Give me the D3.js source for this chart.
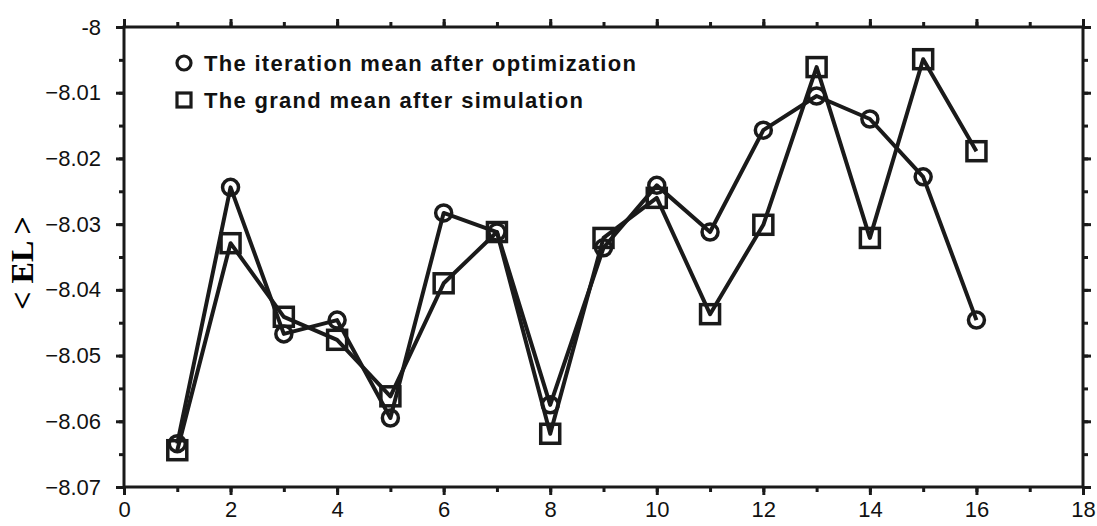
<!DOCTYPE html>
<html>
<head>
<meta charset="utf-8">
<script src="https://cdn.jsdelivr.net/npm/d3@7"></script>
<style>
  body { margin: 0; background: #fff; }
  text { font-family: "Liberation Sans", Arial, sans-serif; }
</style>
</head>
<body>
<svg id="chart" width="1097" height="526"></svg>
<script>
// iteration index and the two series
const iterations = d3.range(1, 17);
const iterMean = [-8.0634, -8.0244, -8.0467, -8.0446, -8.0595, -8.0283, -8.0312, -8.0575,
                  -8.0336, -8.0241, -8.0312, -8.0157, -8.0105, -8.0140, -8.0228, -8.0446];
const grandMean = [-8.0644, -8.0329, -8.0441, -8.0476, -8.0562, -8.0390, -8.0312, -8.0619,
                   -8.0321, -8.0260, -8.0437, -8.0301, -8.0061, -8.0321, -8.0049, -8.0189];
const xTicks = d3.range(0, 19, 2);
const yTicks = [-8, -8.01, -8.02, -8.03, -8.04, -8.05, -8.06, -8.07];
const legendLabels = ["The iteration mean after optimization", "The grand mean after simulation"];

const svg = d3.select("#chart");
const mLeft = 124, mRight = 1083, mTop = 27, mBottom = 487;
const ink = "#1a1a1a";

const x = d3.scaleLinear().domain([0, 18]).range([mLeft, mRight]);
const y = d3.scaleLinear().domain([-8.07, -8]).range([mBottom, mTop]);

// frame
svg.append("rect")
  .attr("x", mLeft).attr("y", mTop)
  .attr("width", mRight - mLeft).attr("height", mBottom - mTop)
  .attr("fill", "none").attr("stroke", ink).attr("stroke-width", 3);

// axes, ticks outward on all sides
const fmt = d => d === -8 ? "-8" : d3.format(".2f")(d);
const yMinor = d3.range(-8.07, -7.9999, 0.005);
const xMinor = d3.range(0, 18.01, 1);

function styleAxis(g) {
  g.select(".domain").remove();
  g.selectAll("line").attr("stroke", ink).attr("stroke-width", 3);
  g.selectAll("text").attr("fill", "#111").style("font-size", "22px");
}

svg.append("g").attr("transform", `translate(${mLeft},0)`)
  .call(d3.axisLeft(y).tickValues(yMinor).tickSize(5).tickFormat(""))
  .call(styleAxis);
svg.append("g").attr("transform", `translate(${mLeft},0)`)
  .call(d3.axisLeft(y).tickValues(yTicks).tickSize(8).tickPadding(15).tickFormat(fmt))
  .call(styleAxis);
svg.append("g").attr("transform", `translate(${mRight},0)`)
  .call(d3.axisRight(y).tickValues(yMinor).tickSize(5).tickFormat(""))
  .call(styleAxis);
svg.append("g").attr("transform", `translate(${mRight},0)`)
  .call(d3.axisRight(y).tickValues(yTicks).tickSize(8).tickFormat(""))
  .call(styleAxis);

svg.append("g").attr("transform", `translate(0,${mBottom})`)
  .call(d3.axisBottom(x).tickValues(xMinor).tickSize(5).tickFormat(""))
  .call(styleAxis);
svg.append("g").attr("transform", `translate(0,${mBottom})`)
  .call(d3.axisBottom(x).tickValues(xTicks).tickSize(8).tickPadding(6).tickFormat(d3.format("d")))
  .call(styleAxis);
svg.append("g").attr("transform", `translate(0,${mTop})`)
  .call(d3.axisTop(x).tickValues(xMinor).tickSize(5).tickFormat(""))
  .call(styleAxis);
svg.append("g").attr("transform", `translate(0,${mTop})`)
  .call(d3.axisTop(x).tickValues(xTicks).tickSize(8).tickFormat(""))
  .call(styleAxis);

// y label
svg.append("text")
  .attr("transform", `translate(33,${(mTop + mBottom) / 2 + 6}) rotate(-90)`)
  .attr("text-anchor", "middle")
  .style("font-family", "'Liberation Serif', serif")
  .style("font-size", "32px").style("font-weight", "bold")
  .text("< EL >");

// lines
const line = d3.line().x((d, i) => x(iterations[i])).y(d => y(d));
[iterMean, grandMean].forEach(s => {
  svg.append("path").datum(s)
    .attr("d", line)
    .attr("fill", "none").attr("stroke", ink)
    .attr("stroke-width", 4).attr("stroke-linejoin", "round");
});

// markers
svg.append("g").selectAll("circle").data(iterMean).join("circle")
  .attr("cx", (d, i) => x(iterations[i])).attr("cy", d => y(d))
  .attr("r", 8).attr("fill", "none")
  .attr("stroke", ink).attr("stroke-width", 3.5);
svg.append("g").selectAll("rect").data(grandMean).join("rect")
  .attr("x", (d, i) => x(iterations[i]) - 9.5).attr("y", d => y(d) - 9.5)
  .attr("width", 19).attr("height", 19)
  .attr("fill", "none").attr("stroke", ink).attr("stroke-width", 3.5);

// legend
const lg = svg.append("g");
lg.append("circle").attr("cx", 184).attr("cy", 63).attr("r", 7)
  .attr("fill", "none").attr("stroke", ink).attr("stroke-width", 3.2);
lg.append("rect").attr("x", 177).attr("y", 93).attr("width", 14).attr("height", 14)
  .attr("fill", "none").attr("stroke", ink).attr("stroke-width", 3.2);
lg.selectAll("text").data(legendLabels).join("text")
  .attr("x", 204).attr("y", (d, i) => 71 + i * 37)
  .style("font-size", "22px").style("font-weight", "bold")
  .style("letter-spacing", "1.3px").attr("fill", "#111")
  .text(d => d);
</script>
</body>
</html>
